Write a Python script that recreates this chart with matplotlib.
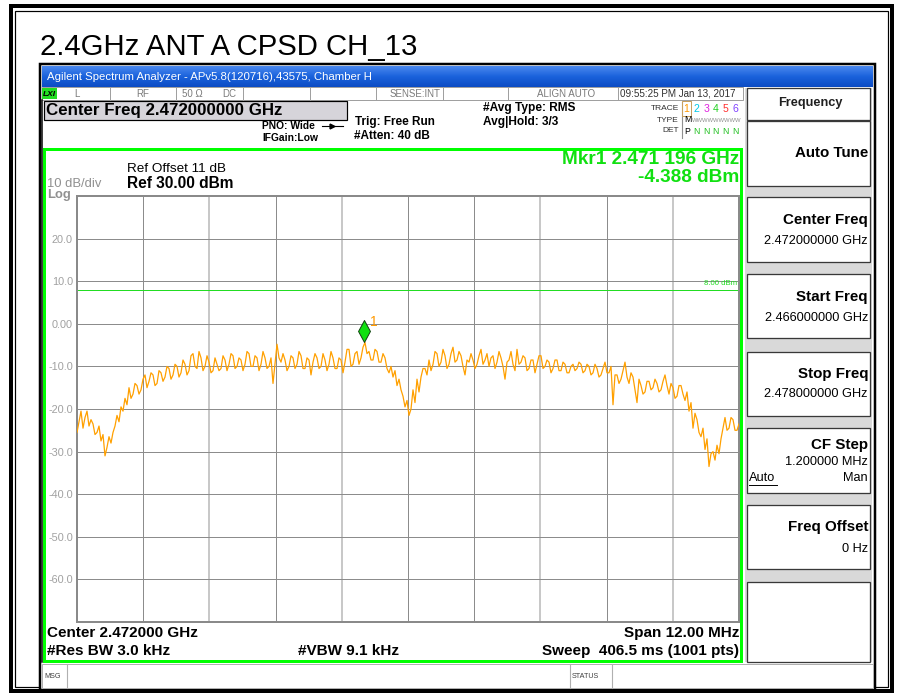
import numpy as np
import matplotlib
matplotlib.use('Agg')
import matplotlib.pyplot as plt
from matplotlib.patches import Rectangle
from matplotlib.path import Path
from matplotlib.colors import LinearSegmentedColormap

plt.rcParams['font.family'] = ['Liberation Sans', 'DejaVu Sans']

# ---------------- data ----------------
start_ghz = 2.466
stop_ghz = 2.478
ref_level = 30.0
db_per_div = 10.0
n_div = 10
display_line_dbm = 8.0
marker_freq_ghz = 2.471196
marker_level_dbm = -4.388
y_tick_values = [20, 10, 0, -10, -20, -30, -40, -50, -60]
y_tick_labels = ['20.0', '10.0', '0.00', '-10.0', '-20.0', '-30.0', '-40.0', '-50.0', '-60.0']
trace_dbm = [
    -25.5, -23.0, -20.5, -24.5, -22.0, -20.5, -24.0, -22.5, -23.5, -26.0,
    -25.5, -24.0, -27.5, -26.0, -31.0, -29.0, -26.5, -28.0, -25.5, -24.0,
    -21.5, -23.0, -19.5, -20.5, -17.5, -19.0, -15.0, -17.5, -16.5, -14.0,
    -14.5, -16.5, -15.5, -13.0, -12.0, -15.0, -13.5, -11.5, -12.0, -14.5,
    -14.0, -11.0, -11.5, -13.5, -12.5, -10.0, -10.5, -13.0, -12.0, -9.5,
    -10.0, -12.5, -11.5, -8.5, -9.5, -12.0, -11.0, -7.5, -7.0, -10.0,
    -10.5, -6.5, -8.0, -11.0, -10.0, -7.5, -9.0, -11.5, -11.0, -8.0,
    -9.5, -11.0, -10.5, -7.5, -8.5, -11.0, -9.5, -7.0, -7.5, -10.5,
    -10.0, -8.0, -8.5, -11.0, -9.5, -6.5, -7.0, -10.0, -10.0, -7.5,
    -8.0, -11.0, -9.5, -6.5, -8.0, -10.5, -10.0, -8.0, -14.0, -9.5,
    -4.8, -8.0, -9.0, -7.0, -8.5, -11.0, -10.0, -7.5, -8.0, -10.5,
    -9.5, -6.5, -7.5, -10.5, -10.5, -8.0, -8.5, -12.0, -9.0, -7.0,
    -8.0, -10.5, -10.0, -7.0, -8.5, -11.0, -9.5, -6.5, -8.0, -10.5,
    -10.5, -8.0, -8.5, -11.5, -9.0, -6.0, -6.0, -10.0, -9.5, -7.0,
    -6.5, -9.5, -8.0, -5.5, -4.4, -7.0, -6.5, -8.5, -8.5, -6.0,
    -6.5, -9.0, -9.0, -7.0, -8.0, -10.5, -11.5, -10.0, -12.5, -11.0,
    -14.5, -13.0, -15.5, -17.0, -19.5, -18.0, -21.5, -20.0, -15.5, -18.5,
    -13.0, -16.0, -12.5, -10.5, -10.5, -12.0, -8.5, -11.0, -9.5, -6.5,
    -7.0, -10.0, -9.0, -6.0, -7.5, -10.5, -9.5, -7.0, -5.5, -9.0,
    -8.5, -6.5, -7.5, -10.0, -12.0, -8.5, -9.0, -7.0, -8.5, -10.5,
    -9.5, -7.5, -6.0, -9.5, -8.5, -7.0, -10.0, -8.0, -7.5, -10.5,
    -9.0, -6.5, -8.0, -10.0, -13.0, -9.0, -8.5, -6.5, -9.5, -11.0,
    -6.0, -9.5, -9.0, -7.5, -8.0, -11.0, -10.5, -8.5, -8.5, -11.5,
    -9.5, -7.5, -7.5, -10.5, -10.0, -8.5, -9.0, -11.5, -10.5, -8.5,
    -8.5, -11.0, -11.0, -9.0, -9.5, -11.5, -11.5, -10.0, -9.5, -11.0,
    -10.5, -9.0, -9.5, -11.5, -11.0, -9.5, -10.0, -12.0, -11.5, -9.5,
    -10.5, -12.5, -12.0, -10.5, -9.0, -11.5, -11.5, -10.0, -19.0, -12.0,
    -12.0, -14.0, -13.0, -11.0, -9.0, -12.5, -14.0, -11.5, -12.5, -15.5,
    -18.5, -13.0, -14.5, -16.5, -16.0, -13.5, -13.5, -15.5, -15.0, -13.0,
    -14.0, -16.0, -15.5, -13.5, -12.0, -14.5, -16.5, -14.0, -15.0, -17.5,
    -17.0, -14.5, -14.5, -16.5, -18.0, -16.0, -20.5, -18.5, -24.5, -21.0,
    -22.5, -25.5, -26.5, -24.5, -29.5, -27.0, -33.5, -30.5, -30.0, -32.0,
    -28.5, -30.5, -27.0, -24.5, -22.0, -25.0, -24.5, -22.0, -22.5, -25.0,
    -25.0, -23.5,
]

W, H = 899, 697
fig = plt.figure(figsize=(W / 100, H / 100), dpi=100)
fig.patch.set_facecolor('white')

# ---------- background "screen" axes in pixel coordinates ----------
bg = fig.add_axes([0, 0, 1, 1])
bg.set_xlim(0, W)
bg.set_ylim(H, 0)
bg.axis('off')

PX = 0.72  # 1 px in points


def rect(x0, y0, x1, y1, fc='none', ec='black', lw=1.0, z=1):
    bg.add_patch(Rectangle((x0, y0), x1 - x0, y1 - y0, facecolor=fc,
                           edgecolor=ec, linewidth=lw * PX, zorder=z))


def txt(x, y, s, size, color='black', ha='left', va='center', weight='normal', **kw):
    bg.text(x, y, s, fontsize=size, color=color, ha=ha, va=va,
            fontweight=weight, zorder=10, **kw)


# outer double frame
rect(11, 6, 892, 691, lw=4)
rect(15, 11, 888, 687, lw=1.2)

# title
txt(40, 47, '2.4GHz ANT A CPSD CH_13', 21.2, va='center')

# window
rect(40, 64, 875, 690, fc='white', ec='black', lw=2.5, z=1)

# title bar gradient
grad = np.linspace(0, 1, 50).reshape(-1, 1)
cm = LinearSegmentedColormap.from_list('tb', ['#4a88ee', '#1a62dc', '#0c4cc4'])
bg.imshow(grad, extent=(42, 873, 87, 66), cmap=cm, aspect='auto', zorder=2)
txt(47, 77, 'Agilent Spectrum Analyzer - APv5.8(120716),43575, Chamber H', 8.2, color='white')

# status row
rect(42, 87, 743, 100, fc='white', ec='#a0a0a0', lw=1, z=3)
for sx in [110, 176, 243, 310, 376, 443, 508, 618]:
    bg.plot([sx, sx], [88, 100], color='#a0a0a0', lw=1 * PX, zorder=4)
rect(42, 88, 57, 99, fc='#22dd22', ec='none', z=4)
txt(49.5, 94, 'LXI', 6, ha='center', weight='bold', style='italic')
gray_t = '#7a7a7a'
txt(77, 94, 'L', 7, color=gray_t, ha='center')
txt(143, 94, 'RF', 7, color=gray_t, ha='center')
txt(182, 94, '50 Ω', 7, color=gray_t)
txt(222, 94, 'DC', 7, color=gray_t)
txt(440, 94, 'SENSE:INT', 7, color=gray_t, ha='right')
txt(566, 94, 'ALIGN AUTO', 7, color=gray_t, ha='center')
txt(620, 94, '09:55:25 PM Jan 13, 2017', 7.1, color='#303030')

# center freq box
rect(44, 101, 347, 120, fc='#d6d4da', ec='black', lw=1.2, z=3)
txt(46, 111, 'Center Freq 2.472000000 GHz', 12.2, weight='bold')
txt(262, 126, 'PNO: Wide', 7.4, weight='bold')
bg.plot([322, 343], [126, 126], color='black', lw=0.8, zorder=5)
bg.plot([332], [126], marker='>', color='black', ms=3.5, zorder=5)
txt(262, 138, 'IFGain:Low', 7.4, weight='bold')
txt(355, 122, 'Trig: Free Run', 8.5, weight='bold')
txt(354, 136, '#Atten: 40 dB', 8.5, weight='bold')
txt(483, 108, '#Avg Type: RMS', 8.6, weight='bold')
txt(483, 122, 'Avg|Hold: 3/3', 8.6, weight='bold')

# trace/type/det
txt(679, 108, 'TRACE', 6, color='#303030', ha='right')
txt(679, 120, 'TYPE', 6, color='#303030', ha='right')
txt(679, 131, 'DET', 6, color='#303030', ha='right')
bg.plot([681.5, 681.5], [102, 138], color='#909090', lw=0.8, zorder=4)
rect(682, 101, 691, 116, fc='none', ec='#c8a060', lw=1, z=4)
trace_cols = ['#ff9900', '#00c8e8', '#e020e0', '#20d020', '#ff3030', '#8040ff']
for k, c in enumerate(trace_cols):
    txt(686.5 + k * 9.8, 109, str(k + 1), 7.6, color=c, ha='center')
txt(684, 120, 'M', 6.3, color='black')
txt(692, 120, 'WWWWWWWWW', 4.2, color='#909090')
txt(684, 131, 'P', 6.3, color='black')
for k in range(5):
    txt(696.3 + k * 9.8, 131, 'N', 6.3, color='#20c020', ha='center')

# softkey panel
rect(745, 88, 872, 662, fc='#d9d9d9', ec='none', z=2)
keys = [
    (88, 120), (121, 186), (197, 262), (274, 338), (352, 416), (428, 493), (505, 569), (582, 662)
]
for (t, b) in keys:
    rect(747, t, 870, b, fc='white', ec='#383838', lw=1.3, z=3)
LS, VS = 10.9, 9.2
txt(810, 103, 'Frequency', 9.2, ha='center', weight='bold', color='#202020')
txt(868, 153, 'Auto Tune', LS, ha='right', weight='bold')
txt(868, 220, 'Center Freq', LS, ha='right', weight='bold')
txt(868, 241, '2.472000000 GHz', VS, ha='right')
txt(868, 297, 'Start Freq', LS, ha='right', weight='bold')
txt(868, 318, '2.466000000 GHz', VS, ha='right')
txt(868, 374, 'Stop Freq', LS, ha='right', weight='bold')
txt(868, 394, '2.478000000 GHz', VS, ha='right')
txt(868, 445, 'CF Step', LS, ha='right', weight='bold')
txt(868, 462, '1.200000 MHz', VS, ha='right')
txt(749, 478, 'Auto', VS)
bg.plot([749, 777], [485, 485], color='black', lw=0.7, zorder=5)
txt(868, 478, 'Man', VS, ha='right')
txt(868, 527, 'Freq Offset', LS, ha='right', weight='bold')
txt(868, 549, '0 Hz', VS, ha='right')

# green display frame
rect(44, 149, 741, 661, fc='white', ec='#00ff00', lw=3, z=3)
bg.plot([41.5, 41.5], [100, 662], color='black', lw=1.5 * PX, zorder=4)

txt(47, 184, '10 dB/div', 9.4, color='#909090')
txt(47, 195, 'Log', 9.4, color='#909090', weight='bold')
txt(127, 169, 'Ref Offset 11 dB', 9.7)
txt(127, 183, 'Ref 30.00 dBm', 11.2, weight='bold')
txt(739, 160, 'Mkr1 2.471 196 GHz', 13.7, color='#11e011', ha='right', weight='bold')
txt(739, 178, '-4.388 dBm', 13.7, color='#11e011', ha='right', weight='bold')

BS = 11
txt(47, 633, 'Center 2.472000 GHz', BS, weight='bold')
txt(739, 633, 'Span 12.00 MHz', BS, weight='bold', ha='right')
txt(47, 651, '#Res BW 3.0 kHz', BS, weight='bold')
txt(298, 651, '#VBW 9.1 kHz', BS, weight='bold')
txt(739, 651, 'Sweep  406.5 ms (1001 pts)', BS, weight='bold', ha='right')

# message bar
rect(42, 664, 873, 688, fc='white', ec='#b0b0b0', lw=1, z=3)
for sx in [67, 570, 612]:
    bg.plot([sx, sx], [664, 688], color='#b0b0b0', lw=0.8, zorder=4)
txt(44, 676, 'MSG', 5.2, color='#404040')
txt(572, 676, 'STATUS', 5.2, color='#404040')

# ---------------- spectrum graticule axes ----------------
gx0, gy0, gx1, gy1 = 77, 196, 739, 622
ax = fig.add_axes([gx0 / W, 1 - gy1 / H, (gx1 - gx0) / W, (gy1 - gy0) / H])
ax.set_facecolor('white')
bottom = ref_level - n_div * db_per_div
ax.set_xlim(start_ghz, stop_ghz)
ax.set_ylim(bottom, ref_level)

xgrid = np.linspace(start_ghz, stop_ghz, n_div + 1)
light_idx = {2, 4, 7, 9}
for i, xv in enumerate(xgrid[1:-1], start=1):
    if i in light_idx:
        ax.axvline(xv, color='#c8c8c8', lw=2 * PX, zorder=1)
    else:
        ax.axvline(xv, color='#8c8c8c', lw=1 * PX, zorder=1)
for yv in np.arange(bottom + db_per_div, ref_level, db_per_div):
    ax.axhline(yv, color='#8c8c8c', lw=1 * PX, zorder=1)

ax.set_xticks([])
ax.set_yticks(y_tick_values)
ax.set_yticklabels(y_tick_labels)
ax.tick_params(axis='y', length=0, pad=3, labelsize=7.8, labelcolor='#a0a0a0')
for sp in ax.spines.values():
    sp.set_color('#8a8a8a')
    sp.set_linewidth(2 * PX)

# display line
ax.axhline(display_line_dbm, color='#22dd22', lw=1 * PX, zorder=2)
ax.text(stop_ghz - 0.00003, display_line_dbm + 0.6, '%.2f dBm' % display_line_dbm,
        ha='right', va='bottom', fontsize=5.6, color='#22dd22')

# trace
freqs = np.linspace(start_ghz, stop_ghz, len(trace_dbm))
ax.plot(freqs, trace_dbm, color='#ffa000', lw=0.9, zorder=3)

# marker
diamond = Path([(0, 0), (-0.27, 0.5), (0, 1), (0.27, 0.5), (0, 0)],
               [Path.MOVETO, Path.LINETO, Path.LINETO, Path.LINETO, Path.CLOSEPOLY])
ax.plot([marker_freq_ghz], [marker_level_dbm], marker=diamond, ms=31.7, mfc='#10e010',
        mec='#104010', mew=0.7, ls='none', zorder=5)
ax.annotate('1', xy=(marker_freq_ghz, marker_level_dbm), xytext=(7.5, 14.5),
            textcoords='offset points', ha='center', va='center', fontsize=10,
            color='#ff9900', zorder=6)

fig.savefig('out.png', dpi=100, facecolor='white')
